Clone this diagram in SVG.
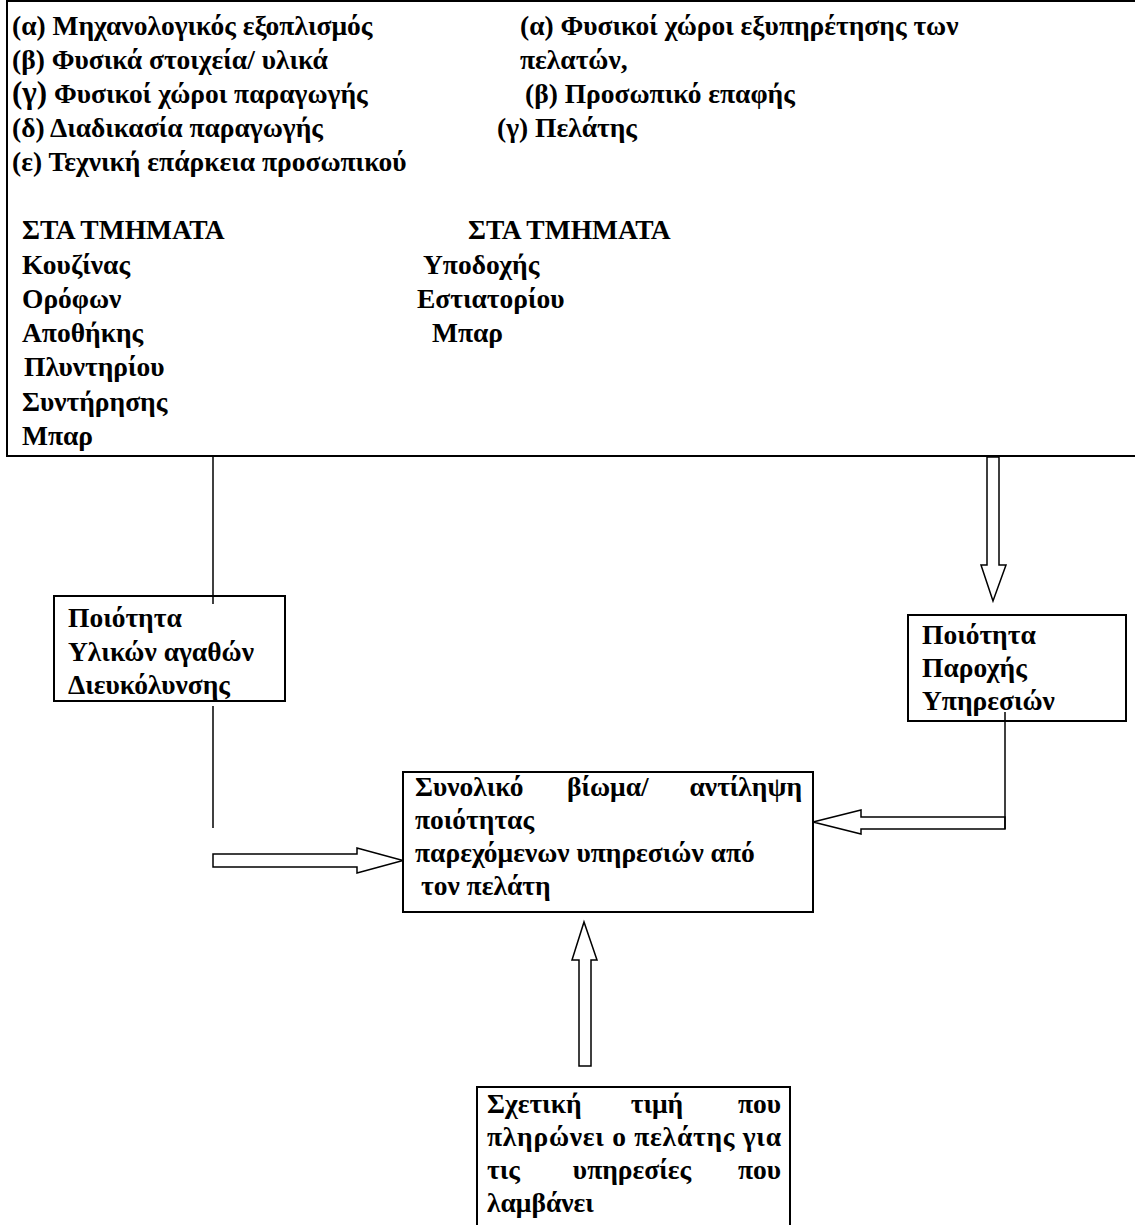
<svg xmlns="http://www.w3.org/2000/svg" width="1135" height="1225" viewBox="0 0 1135 1225">
<style>
text{font-family:"Liberation Serif","Times New Roman",serif;font-weight:bold;font-size:27.5px;fill:#000}
.box{fill:#fff;stroke:#000;stroke-width:2}
.ln{fill:none;stroke:#000;stroke-width:1.5}
.arr{fill:#fff;stroke:#000;stroke-width:1.5;stroke-linejoin:miter}
</style>
<rect width="1135" height="1225" fill="#fff"/>
<g id="top">
<rect class="box" x="7" y="1" width="1140" height="455"/>
<text x="12" y="35">(α) Μηχανολογικός εξοπλισμός</text>
<text x="12" y="69">(β) Φυσικά στοιχεία/ υλικά</text>
<text x="12" y="103"><tspan font-size="31">(γ)</tspan> Φυσικοί χώροι παραγωγής</text>
<text x="12" y="137">(δ) Διαδικασία παραγωγής</text>
<text x="12" y="171">(ε) Τεχνική επάρκεια προσωπικού</text>
<text x="520" y="35">(α) Φυσικοί χώροι εξυπηρέτησης των</text>
<text x="520" y="69">πελατών,</text>
<text x="525" y="103">(β) Προσωπικό επαφής</text>
<text x="497" y="137">(γ) Πελάτης</text>
<text x="22" y="239">ΣΤΑ ΤΜΗΜΑΤΑ</text>
<text x="22" y="274">Κουζίνας</text>
<text x="22" y="308">Ορόφων</text>
<text x="22" y="342">Αποθήκης</text>
<text x="24" y="376">Πλυντηρίου</text>
<text x="22" y="411">Συντήρησης</text>
<text x="22" y="445">Μπαρ</text>
<text x="468" y="239">ΣΤΑ ΤΜΗΜΑΤΑ</text>
<text x="423" y="274">Υποδοχής</text>
<text x="417" y="308">Εστιατορίου</text>
<text x="432" y="342">Μπαρ</text>
</g>
<g id="connectors">
<line class="ln" x1="213" y1="456" x2="213" y2="604"/>
<line class="ln" x1="213" y1="706" x2="213" y2="828"/>
<polygon class="arr" points="987,457 987,565 981,565 993,601 1006,565 999,565 999,457"/>
<polygon class="arr" points="213,854 357,854 357,848 403,860.5 357,873 357,867 213,867"/>
<polygon class="arr" points="1005,817 861,817 861,810 813,822 861,834 861,829 1005,829"/>
<polygon class="arr" points="579,1066 579,960 572,960 584,922 597,960 591,960 591,1066"/>
</g>
<g id="node-left">
<rect class="box" x="54" y="596" width="231" height="105"/>
<line class="ln" x1="213" y1="596" x2="213" y2="604"/>
<text x="68" y="627">Ποιότητα</text>
<text x="68" y="661">Υλικών αγαθών</text>
<text x="68" y="694">Διευκόλυνσης</text>
</g>
<g id="node-right">
<rect class="box" x="908" y="615" width="218" height="106"/>
<text x="922" y="644">Ποιότητα</text>
<text x="922" y="677">Παροχής</text>
<text x="922" y="710">Υπηρεσιών</text>
<line class="ln" x1="1005" y1="712" x2="1005" y2="829"/>
</g>
<g id="node-center">
<rect class="box" x="403" y="772" width="410" height="140"/>
<text x="415" y="796">Συνολικό</text>
<text x="567" y="796">βίωμα/</text>
<text x="802" y="796" text-anchor="end">αντίληψη</text>
<text x="415" y="829">ποιότητας</text>
<text x="415" y="862">παρεχόμενων υπηρεσιών από</text>
<text x="421" y="895">τον πελάτη</text>
</g>
<g id="node-bottom">
<rect class="box" x="477" y="1087" width="313" height="160"/>
<text x="487" y="1113">Σχετική</text>
<text x="657" y="1113" text-anchor="middle">τιμή</text>
<text x="781" y="1113" text-anchor="end">που</text>
<text x="487" y="1146" textLength="294" lengthAdjust="spacing">πληρώνει ο πελάτης για</text>
<text x="487" y="1179">τις</text>
<text x="632" y="1179" text-anchor="middle">υπηρεσίες</text>
<text x="781" y="1179" text-anchor="end">που</text>
<text x="487" y="1212">λαμβάνει</text>
</g>
</svg>
